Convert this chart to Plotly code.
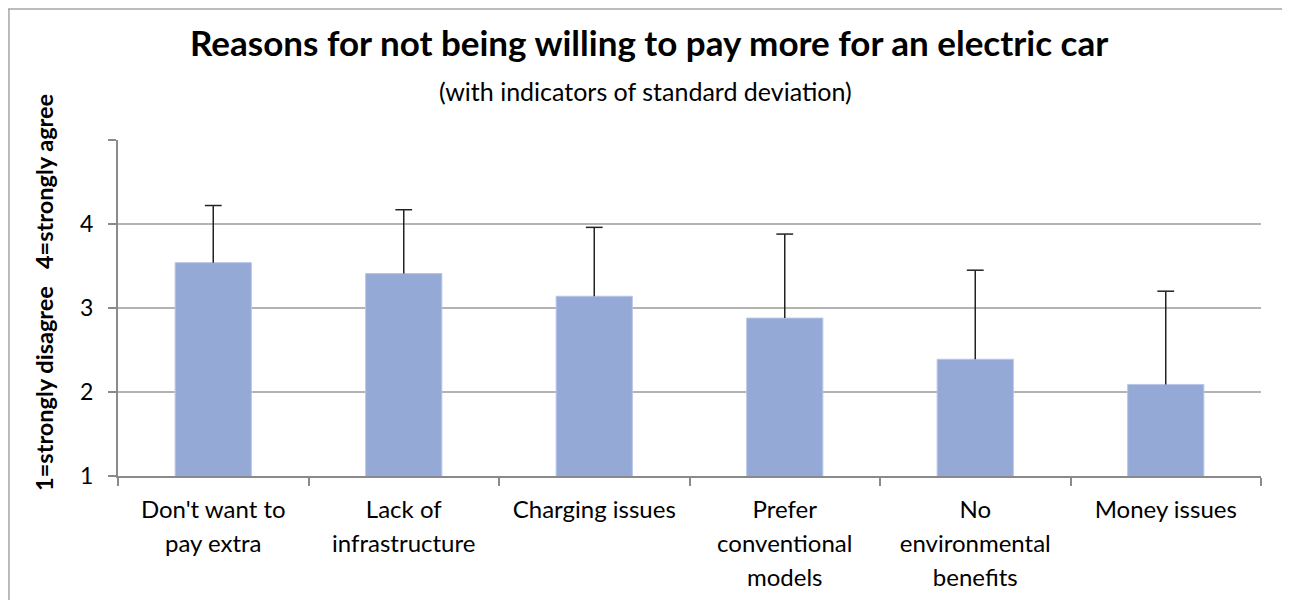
import plotly.graph_objects as go

categories = ["Don't want to<br>pay extra", "Lack of<br>infrastructure", "Charging issues",
              "Prefer<br>conventional<br>models", "No<br>environmental<br>benefits", "Money issues"]
means = [3.54, 3.41, 3.14, 2.88, 2.39, 2.09]
std_devs = [0.68, 0.76, 0.82, 1.00, 1.06, 1.11]
y_tickvals = [1, 2, 3, 4, 5]
y_ticktext = ["1", "2", "3", "4", ""]

title_text = "Reasons for not being willing to pay more for an electric car"
subtitle_text = "(with indicators of standard deviation)"
ytitle_text = "1=strongly disagree&nbsp;&nbsp;&nbsp;4=strongly agree"

FONT = "Lato"
bar_color = "#95A9D6"

tick_labels = ['<span style="font-size:24px">' + c + '</span>' for c in categories]

fig = go.Figure()
fig.add_trace(go.Bar(
    x=tick_labels, y=means, width=0.4,
    marker=dict(color=bar_color, line=dict(color="#b8c5e6", width=1)),
    hoverinfo="skip", showlegend=False,
))
tops = [m + s for m, s in zip(means, std_devs)]
fig.add_trace(go.Scatter(
    x=tick_labels, y=tops, mode="markers",
    marker=dict(symbol="line-ew", size=12, line=dict(color="#222222", width=1.5)),
    error_y=dict(type="data", array=[0] * len(std_devs), arrayminus=std_devs,
                 symmetric=False, width=0, thickness=1.5, color="#222222"),
    hoverinfo="skip", showlegend=False,
))

fig.update_layout(
    width=1290, height=600,
    margin=dict(l=110, r=37, t=132, b=132),
    paper_bgcolor="white", plot_bgcolor="white",
    font=dict(family=FONT, color="black"),
    bargap=0.6,
    xaxis=dict(
        type="category", tickson="boundaries", ticks="outside", ticklen=8,
        tickcolor="#8a8a8a", tickwidth=1.5,
        showline=True, linecolor="#8a8a8a", linewidth=2,
        showgrid=False, tickfont=dict(family=FONT, size=26, color="black"),
        tickangle=0, ticklabelstandoff=9,
    ),
    yaxis=dict(
        range=[1, 5], tickvals=y_tickvals, ticktext=y_ticktext,
        ticks="outside", ticklen=8, tickcolor="#8a8a8a", tickwidth=1.5,
        showline=True, linecolor="#8a8a8a", linewidth=2,
        showgrid=True, gridcolor="#b3b3b3", gridwidth=1.5, zeroline=False,
        tickfont=dict(family=FONT, size=23, color="black"),
        ticklabelstandoff=10,
    ),
    annotations=[
        dict(text="<b>" + title_text + "</b>", xref="paper", yref="paper",
             x=0.4646, y=1.292, xanchor="center", yanchor="middle", showarrow=False,
             font=dict(family=FONT, size=35, color="black")),
        dict(text=subtitle_text, xref="paper", yref="paper",
             x=0.4619, y=1.1457, xanchor="center", yanchor="middle", showarrow=False,
             font=dict(family=FONT, size=25, color="black")),
        dict(text="<b>" + ytitle_text + "</b>", xref="paper", yref="paper",
             x=-0.0648, y=0.5476, xanchor="center", yanchor="middle", showarrow=False,
             textangle=-90, font=dict(family=FONT, size=23.5, color="black")),
    ],
    shapes=[
        dict(type="line", xref="paper", yref="paper", x0=-0.2, x1=1.0,
             y0=1.3899, y1=1.3899, line=dict(color="#a6a6a6", width=1.5)),
        dict(type="line", xref="paper", yref="paper", x0=1.0, x1=1.03,
             y0=1.3899, y1=1.3899, line=dict(color="#a6a6a6", width=1.5)),
        dict(type="line", xref="paper", yref="paper", x0=-0.0954, x1=-0.0954,
             y0=-0.5, y1=1.3899, line=dict(color="#a6a6a6", width=1.5)),
    ],
)

fig.write_html("out.html")
